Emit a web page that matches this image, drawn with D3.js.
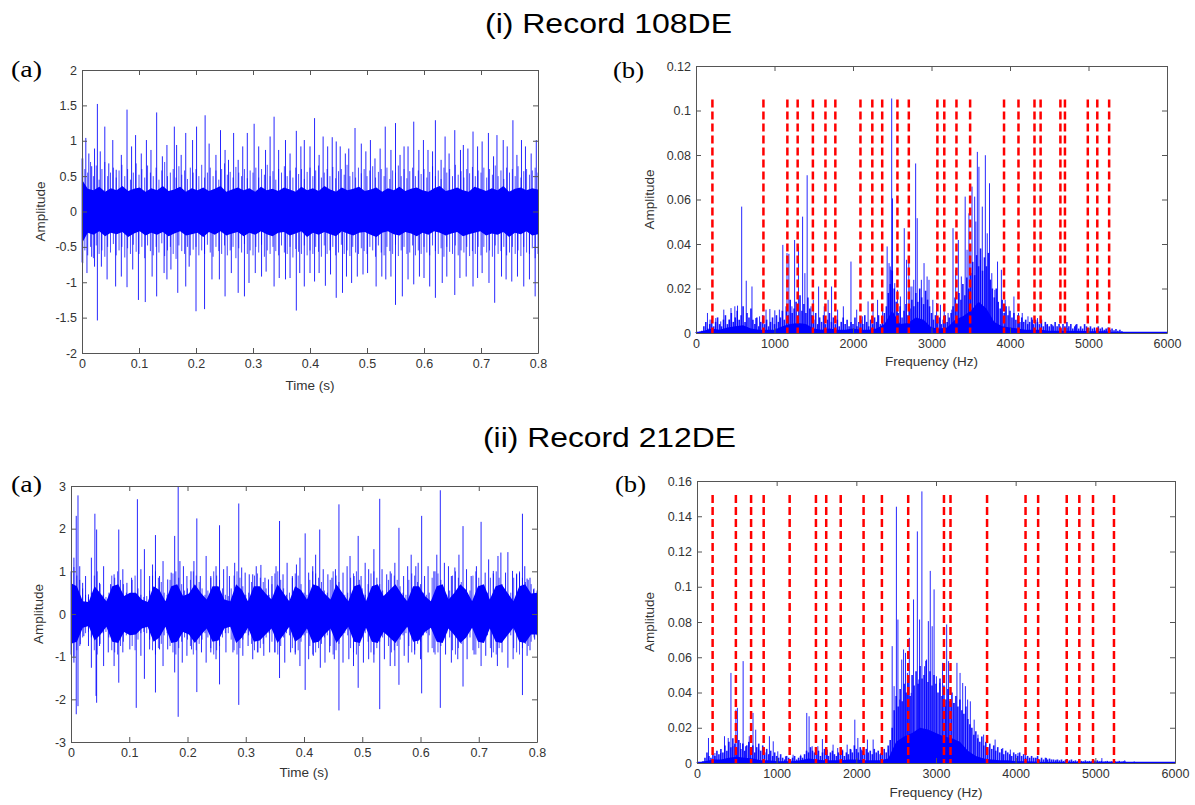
<!DOCTYPE html>
<html><head><meta charset="utf-8">
<script src="https://cdn.jsdelivr.net/npm/d3@7"></script>
<style>body{margin:0;background:#fff}svg{display:block}</style>
</head><body><svg id="c" width="1195" height="805"></svg>
<script>
// ---------- DATA ----------
const titles = ["(i) Record 108DE", "(ii) Record 212DE"];
const timeTicks = [0,0.1,0.2,0.3,0.4,0.5,0.6,0.7,0.8];
const freqTicks = [0,1000,2000,3000,4000,5000,6000];
const ampTicks1a = [-2,-1.5,-1,-0.5,0,0.5,1,1.5,2];
const ampTicks1b = [0,0.02,0.04,0.06,0.08,0.1,0.12];
const ampTicks2a = [-3,-2,-1,0,1,2,3];
const ampTicks2b = [0,0.02,0.04,0.06,0.08,0.1,0.12,0.14,0.16];

// Record 108DE time signal: solid core envelope (80 points over 0..0.8 s)
const coreUp1 = [0.45,0.32,0.3,0.35,0.28,0.33,0.3,0.36,0.29,0.32,0.34,0.28,0.33,0.3,0.36,0.29,0.31,0.35,0.28,0.33,0.3,0.34,0.29,0.32,0.36,0.28,0.31,0.34,0.3,0.33,0.28,0.35,0.3,0.32,0.29,0.34,0.31,0.28,0.35,0.3,0.33,0.29,0.36,0.31,0.28,0.34,0.3,0.32,0.35,0.29,0.31,0.34,0.28,0.33,0.3,0.35,0.29,0.32,0.34,0.3,0.28,0.33,0.36,0.29,0.31,0.34,0.3,0.28,0.35,0.32,0.29,0.33,0.3,0.36,0.28,0.32,0.34,0.3,0.33,0.31];
const coreDn1 = [-0.45,-0.3,-0.33,-0.28,-0.35,-0.3,-0.32,-0.29,-0.36,-0.31,-0.28,-0.34,-0.3,-0.33,-0.29,-0.35,-0.31,-0.28,-0.34,-0.32,-0.3,-0.36,-0.29,-0.33,-0.28,-0.34,-0.31,-0.29,-0.35,-0.3,-0.33,-0.28,-0.32,-0.35,-0.3,-0.29,-0.34,-0.31,-0.28,-0.36,-0.3,-0.33,-0.29,-0.32,-0.35,-0.28,-0.31,-0.34,-0.3,-0.29,-0.33,-0.36,-0.3,-0.28,-0.32,-0.34,-0.29,-0.31,-0.35,-0.3,-0.33,-0.28,-0.3,-0.34,-0.31,-0.29,-0.35,-0.32,-0.3,-0.28,-0.34,-0.31,-0.33,-0.29,-0.36,-0.3,-0.32,-0.28,-0.34,-0.32];
// dense medium oscillation peaks every 5 ms (161 points)
const fineUp1 = [0.75,0.6,0.55,0.7,0.5,0.65,0.45,0.6,0.7,0.5,0.55,0.62,0.48,0.58,0.66,0.5,0.6,0.45,0.55,0.68,
0.52,0.6,0.48,0.65,0.55,0.5,0.62,0.45,0.58,0.7,0.5,0.55,0.6,0.48,0.64,0.52,0.58,0.46,0.62,0.55,
0.6,0.5,0.66,0.48,0.55,0.62,0.5,0.58,0.45,0.6,0.68,0.52,0.56,0.48,0.63,0.55,0.5,0.6,0.47,0.58,
0.55,0.62,0.48,0.6,0.52,0.66,0.5,0.57,0.45,0.6,0.55,0.64,0.5,0.58,0.48,0.62,0.53,0.6,0.46,0.56,
0.62,0.5,0.58,0.65,0.48,0.55,0.6,0.5,0.63,0.47,0.57,0.6,0.52,0.66,0.5,0.56,0.48,0.62,0.54,0.6,
0.5,0.58,0.64,0.48,0.56,0.6,0.5,0.62,0.46,0.58,0.55,0.65,0.5,0.6,0.47,0.57,0.62,0.5,0.58,0.53,
0.6,0.48,0.56,0.64,0.5,0.58,0.46,0.62,0.55,0.6,0.5,0.66,0.52,0.57,0.48,0.6,0.54,0.63,0.5,0.58,
0.55,0.62,0.48,0.6,0.52,0.65,0.5,0.58,0.46,0.62,0.55,0.6,0.5,0.64,0.48,0.57,0.6,0.52,0.58,0.62,0.55];
const fineDn1 = [-0.72,-0.55,-0.62,-0.5,-0.66,-0.48,-0.6,-0.55,-0.64,-0.5,-0.58,-0.46,-0.62,-0.55,-0.5,-0.65,-0.52,-0.6,-0.47,-0.57,
-0.6,-0.5,-0.66,-0.48,-0.56,-0.62,-0.5,-0.58,-0.45,-0.63,-0.55,-0.5,-0.6,-0.67,-0.48,-0.56,-0.6,-0.5,-0.62,-0.54,
-0.5,-0.62,-0.55,-0.6,-0.47,-0.58,-0.64,-0.5,-0.56,-0.6,-0.48,-0.62,-0.55,-0.5,-0.66,-0.52,-0.58,-0.46,-0.6,-0.55,
-0.62,-0.5,-0.58,-0.47,-0.64,-0.55,-0.6,-0.5,-0.56,-0.62,-0.48,-0.58,-0.6,-0.5,-0.65,-0.53,-0.57,-0.6,-0.48,-0.62,
-0.55,-0.6,-0.5,-0.57,-0.64,-0.48,-0.6,-0.55,-0.5,-0.62,-0.58,-0.47,-0.6,-0.55,-0.63,-0.5,-0.58,-0.6,-0.52,-0.56,
-0.6,-0.5,-0.55,-0.64,-0.48,-0.58,-0.62,-0.5,-0.56,-0.6,-0.47,-0.63,-0.55,-0.5,-0.6,-0.58,-0.48,-0.62,-0.55,-0.6,
-0.5,-0.58,-0.62,-0.48,-0.56,-0.6,-0.52,-0.64,-0.5,-0.57,-0.6,-0.48,-0.62,-0.55,-0.58,-0.5,-0.63,-0.56,-0.6,-0.5,
-0.62,-0.5,-0.58,-0.55,-0.64,-0.48,-0.6,-0.56,-0.5,-0.62,-0.58,-0.5,-0.6,-0.55,-0.63,-0.5,-0.58,-0.6,-0.52,-0.66,-0.6];
// large impulse peaks (time in ms, amplitude)
const posT1 = [1.3,6.7,12,17,22,27,32,40,47,54,60,69,79,87,94,104,113,121,131,141,149,162,166,174,182,194,201,216,223,235,243,251,257,266,274,282,290,302,310,322,330,337,345,357,365,376,384,390,400,408,416,423,431,439,446,453,462,468,479,490,498,506,514,523,532,542,550,558,565,572,582,591,599,607,615,620,630,637,644,654,664,669,677,686,694,702,713,722,728,739,746,756,763,771,778,788,797];
const posV1 = [0.75,1.04,0.82,0.64,0.89,1.52,0.85,1.2,0.68,1.01,0.59,0.8,1.44,0.92,1.08,0.82,1.01,0.87,1.4,0.78,0.94,1.2,0.94,0.8,1.11,1.01,1.2,1.36,0.96,0.8,1.15,0.87,0.73,1.11,0.73,0.92,1.11,1.24,0.92,0.87,1.06,1.34,0.87,1.01,0.82,1.14,0.92,1.01,0.92,1.32,0.8,1.06,0.92,1.05,0.99,0.92,0.82,0.89,1.18,0.96,0.85,1.01,0.75,0.89,1.2,0.87,1.25,0.8,0.92,0.92,1.27,0.87,1.01,0.87,0.85,1.29,0.73,1.06,0.82,1.15,0.87,0.94,0.89,1.13,0.92,0.99,1.11,0.78,1.08,1.01,0.92,1.29,0.8,1.01,0.92,0.82,1.01];
const negT1 = [1.3,8.7,17,22,27,34,44,59,69,79,89,99,111,123,131,144,149,156,168,182,188,200,215,228,241,251,262,274,285,293,304,315,323,337,346,357,365,376,382,390,400,408,416,427,436,446,457,464,473,483,493,501,516,526,533,542,550,562,572,582,592,600,610,620,632,640,654,663,674,686,694,702,714,724,736,744,754,764,775,785,795];
const negV1 = [-0.73,-0.87,-0.64,-0.78,-1.54,-0.78,-0.96,-1.06,-0.92,-1.07,-0.82,-1.25,-1.28,-0.92,-1.2,-0.87,-0.96,-0.82,-1.15,-1.06,-0.78,-1.41,-1.38,-0.96,-0.96,-1.2,-0.87,-1.15,-1.2,-1.01,-0.87,-0.92,-0.85,-1.06,-0.94,-0.96,-0.94,-1.4,-0.87,-1.06,-0.87,-0.99,-0.87,-1.05,-0.89,-1.22,-1.15,-0.92,-1.01,-0.92,-0.89,-0.87,-1.06,-0.92,-0.96,-0.92,-1.32,-1.2,-0.96,-1.03,-0.92,-0.94,-1.06,-1.22,-1.01,-0.92,-1.18,-0.94,-0.92,-1.06,-0.94,-0.87,-1.01,-1.29,-0.92,-0.96,-0.99,-0.92,-1.06,-0.96,-1.2];

// Record 108DE spectrum
const floor1 = [0.0002,0.001,0.002,0.0015,0.0025,0.003,0.0035,0.002,0.0015,0.0015,0.0015,0.003,0.004,0.0045,0.004,0.002,0.0015,0.002,0.0015,0.0015,0.002,0.0015,0.0015,0.002,0.004,0.01,0.004,0.0045,0.007,0.006,0.0025,0.002,0.0025,0.006,0.0075,0.01,0.014,0.011,0.005,0.003,0.0025,0.002,0.0015,0.0015,0.0015,0.001,0.001,0.001,0.001,0.001,0.0008,0.0008,0.0008,0.0005,0.0004,0.0001,0.0001,0.0001,0.0001,0.0001,0.0001];
// dense small spectral lines every 25 Hz (0..5475 Hz)
const fine1 = [0.0003,0.0004,0.0006,0.001,0.003,0.005,0.002,0.004,0.006,0.003,0.005,0.007,0.004,0.003,0.006,0.008,0.004,0.006,0.009,0.005,
0.007,0.01,0.006,0.008,0.012,0.005,0.009,0.007,0.011,0.006,0.004,0.007,0.003,0.005,0.008,0.004,0.006,0.003,0.005,0.007,
0.004,0.008,0.005,0.007,0.01,0.006,0.012,0.008,0.015,0.009,0.011,0.014,0.008,0.017,0.01,0.013,0.009,0.016,0.011,0.008,
0.006,0.009,0.004,0.007,0.005,0.008,0.004,0.006,0.009,0.005,0.007,0.004,0.006,0.003,0.005,0.007,0.004,0.006,0.003,0.005,
0.004,0.007,0.003,0.005,0.006,0.004,0.008,0.005,0.003,0.006,0.004,0.007,0.005,0.008,0.004,0.006,0.009,0.012,0.018,0.022,
0.028,0.02,0.014,0.009,0.012,0.007,0.01,0.013,0.008,0.011,0.015,0.012,0.018,0.014,0.02,0.016,0.013,0.019,0.015,0.012,
0.009,0.006,0.008,0.005,0.007,0.004,0.006,0.008,0.005,0.007,0.009,0.012,0.016,0.013,0.018,0.015,0.022,0.017,0.025,0.02,
0.027,0.032,0.026,0.035,0.03,0.038,0.028,0.034,0.03,0.036,0.024,0.02,0.016,0.02,0.014,0.011,0.015,0.009,0.012,0.008,
0.01,0.007,0.009,0.006,0.008,0.005,0.007,0.005,0.006,0.004,0.005,0.007,0.004,0.006,0.005,0.004,0.006,0.003,0.005,0.004,
0.003,0.004,0.003,0.005,0.003,0.004,0.002,0.004,0.003,0.005,0.003,0.004,0.002,0.003,0.004,0.002,0.003,0.002,0.004,0.003,
0.002,0.003,0.002,0.0025,0.0015,0.003,0.002,0.0025,0.0015,0.002,0.0025,0.0015,0.002,0.0012,0.0018,0.001,0.0015,0.0008,0.0005,0.0003];
const peakF1 = [146,179,252,315,354,422,446,495,529,582,640,713,761,810,892,941,1004,1062,1106,1159,1183,1222,1256,1305,1358,1387,1416,1465,1494,1562,1634,1683,1727,1804,1877,1974,2047,2119,2192,2255,2313,2377,2435,2459,2474,2483,2493,2503,2532,2566,2604,2653,2682,2711,2726,2750,2774,2798,2818,2847,2871,2905,2944,2968,3017,3065,3114,3162,3211,3259,3274,3308,3342,3380,3429,3453,3477,3492,3516,3550,3565,3584,3604,3623,3647,3686,3710,3739,3768,3807,3841,3890,3938,3987,4050,4108,4156,4229,4287,4350,4399,4472,4544,4641,4738,4835,4981,5078,5223,5369];
const peakA1 = [0.009,0.006,0.0067,0.0052,0.0105,0.006,0.0112,0.012,0.0123,0.0568,0.0235,0.0209,0.0067,0.0075,0.0105,0.0108,0.0102,0.0105,0.0396,0.0359,0.0356,0.012,0.0418,0.0389,0.0523,0.0269,0.0709,0.012,0.0149,0.0209,0.012,0.0149,0.0209,0.0105,0.012,0.0321,0.0105,0.0075,0.0142,0.0135,0.0149,0.0112,0.0389,0.0314,0.0299,0.0284,0.1054,0.0605,0.0224,0.0194,0.0164,0.0471,0.0329,0.0329,0.0209,0.0209,0.0239,0.0762,0.0516,0.0194,0.0239,0.0314,0.0254,0.0239,0.0149,0.0135,0.0127,0.012,0.009,0.0105,0.0471,0.0284,0.0418,0.0254,0.0613,0.0374,0.0538,0.0389,0.0658,0.0613,0.0501,0.0814,0.0747,0.0329,0.0568,0.0799,0.0448,0.0673,0.0269,0.0194,0.0321,0.0284,0.0149,0.012,0.0164,0.009,0.009,0.0075,0.006,0.0067,0.0045,0.0037,0.0037,0.003,0.0022,0.0037,0.0022,0.0022,0.0015,0.0007];
const markF1 = [209,859,1164,1295,1489,1649,1775,2095,2246,2372,2566,2711,3075,3163,3318,3492,3924,4108,4312,4390,4642,4700,4991,5112,5263];
const markTop1 = 0.105;

// Record 212DE time signal
const coreUp2 = [0.72,0.65,0.3,0.28,0.65,0.48,0.3,0.65,0.7,0.42,0.5,0.5,0.34,0.28,0.65,0.56,0.3,0.65,0.7,0.42,0.48,0.7,0.5,0.34,0.65,0.65,0.34,0.3,0.7,0.56,0.3,0.65,0.65,0.48,0.34,0.7,0.5,0.3,0.65,0.56,0.34,0.7,0.65,0.48,0.34,0.7,0.5,0.3,0.65,0.7,0.3,0.65,0.7,0.42,0.56,0.7,0.48,0.3,0.65,0.65,0.42,0.3,0.65,0.7,0.34,0.5,0.7,0.56,0.3,0.65,0.7,0.34,0.65,0.7,0.5,0.3,0.65,0.7,0.48,0.5];
const coreDn2 = [-0.7,-0.65,-0.32,-0.28,-0.62,-0.48,-0.3,-0.65,-0.68,-0.42,-0.5,-0.48,-0.34,-0.3,-0.65,-0.55,-0.3,-0.68,-0.65,-0.42,-0.48,-0.68,-0.5,-0.34,-0.65,-0.62,-0.34,-0.3,-0.68,-0.55,-0.32,-0.65,-0.62,-0.48,-0.34,-0.68,-0.5,-0.3,-0.65,-0.55,-0.34,-0.68,-0.65,-0.48,-0.34,-0.68,-0.5,-0.3,-0.65,-0.68,-0.32,-0.65,-0.68,-0.42,-0.55,-0.68,-0.48,-0.3,-0.65,-0.62,-0.42,-0.32,-0.65,-0.68,-0.34,-0.5,-0.68,-0.55,-0.32,-0.65,-0.68,-0.34,-0.65,-0.68,-0.5,-0.32,-0.65,-0.68,-0.48,-0.48];
const fineUp2 = [1.0,1.1,0.9,0.8,0.6,0.45,0.4,0.5,0.9,1.0,0.7,0.45,0.4,0.5,0.9,0.85,1.0,0.8,0.7,0.5,
0.45,0.8,0.9,0.6,0.45,0.4,0.42,0.55,0.9,1.0,0.85,0.75,0.5,0.45,0.8,0.95,1.0,0.85,0.7,0.55,
0.6,0.8,1.0,0.9,0.75,0.6,0.45,0.55,0.85,1.0,0.9,0.8,0.6,0.45,0.42,0.6,0.9,1.0,0.85,0.65,
0.45,0.5,0.75,0.9,0.95,0.85,0.75,0.6,0.45,0.7,0.95,1.0,0.8,0.6,0.45,0.5,0.85,0.95,0.9,0.7,
0.5,0.45,0.8,1.0,0.95,0.85,0.75,0.55,0.5,0.8,1.0,0.9,0.75,0.5,0.45,0.5,0.85,0.95,1.0,0.8,
0.6,0.45,0.7,0.95,1.0,0.85,0.7,0.55,0.45,0.8,0.95,0.9,0.8,0.65,0.5,0.45,0.8,0.95,0.9,0.75,
0.7,0.5,0.45,0.5,0.85,1.0,0.95,0.8,0.6,0.45,0.55,0.9,1.0,0.85,0.75,0.55,0.45,0.55,0.9,1.0,
0.85,0.65,0.45,0.5,0.85,0.95,1.0,0.85,0.7,0.55,0.45,0.5,0.85,0.95,1.0,0.85,0.75,0.8,0.7,0.6,0.55];
const fineDn2 = [-0.95,-1.0,-0.85,-0.75,-0.55,-0.45,-0.42,-0.55,-0.85,-0.95,-0.7,-0.45,-0.42,-0.55,-0.85,-0.9,-0.95,-0.75,-0.65,-0.5,
-0.45,-0.75,-0.85,-0.6,-0.45,-0.42,-0.45,-0.6,-0.85,-0.95,-0.8,-0.7,-0.5,-0.45,-0.75,-0.9,-0.95,-0.8,-0.65,-0.55,
-0.6,-0.75,-0.95,-0.85,-0.7,-0.6,-0.45,-0.55,-0.8,-0.95,-0.85,-0.75,-0.55,-0.45,-0.45,-0.6,-0.85,-0.95,-0.8,-0.6,
-0.45,-0.5,-0.7,-0.85,-0.9,-0.8,-0.7,-0.55,-0.45,-0.65,-0.9,-0.95,-0.75,-0.55,-0.45,-0.5,-0.8,-0.9,-0.85,-0.65,
-0.5,-0.45,-0.75,-0.95,-0.9,-0.8,-0.7,-0.55,-0.5,-0.75,-0.95,-0.85,-0.7,-0.5,-0.45,-0.5,-0.8,-0.9,-0.95,-0.75,
-0.55,-0.45,-0.65,-0.9,-0.95,-0.8,-0.65,-0.55,-0.45,-0.75,-0.9,-0.85,-0.75,-0.6,-0.5,-0.45,-0.75,-0.9,-0.85,-0.7,
-0.65,-0.5,-0.45,-0.5,-0.8,-0.95,-0.9,-0.75,-0.55,-0.45,-0.55,-0.85,-0.95,-0.8,-0.7,-0.55,-0.45,-0.55,-0.85,-0.95,
-0.8,-0.6,-0.45,-0.5,-0.8,-0.9,-0.95,-0.8,-0.65,-0.55,-0.45,-0.5,-0.8,-0.9,-0.95,-0.8,-0.7,-0.75,-0.65,-0.55,-0.5];
const posT2 = [2,5,9,12,15,20,25,30,35,41,44,49,56,68,74,82,89,96,104,114,120,126,135,140,145,152,158,166,172,178,184,187,193,199,206,211,216,222,232,240,249,255,262,268,272,281,288,293,299,306,312,318,326,333,339,345,352,358,364,371,380,387,393,402,408,415,420,427,433,441,448,454,460,467,474,479,486,493,498,505,511,520,530,534,542,548,556,563,571,578,584,592,596,602,607,613,623,628,634,641,648,653,659,666,673,679,687,696,704,711,717,725,733,738,746,750,758,765,770,775,779,783,788,794];
const posV2 = [0.58,1.32,2.3,2.78,1.12,0.73,0.89,0.46,1.32,2.35,1.98,0.73,1.12,0.7,0.93,1.98,1.05,0.73,0.85,2.69,1.05,1.52,0.89,1.16,1.85,0.89,1.24,0.81,0.97,1.83,3.0,1.24,1.12,0.89,1.0,1.24,2.24,0.89,1.36,0.89,1.12,2.08,1.05,1.12,0.89,1.2,2.59,1.09,0.97,0.93,0.93,1.12,1.15,0.85,0.81,0.89,1.12,2.18,0.93,1.2,0.89,1.16,1.32,1.89,0.97,1.12,1.39,1.98,1.05,0.93,0.85,1.05,2.57,0.97,1.12,1.36,0.89,1.83,0.89,1.2,1.05,1.52,2.7,1.05,0.93,1.0,1.2,2.02,0.89,1.12,1.39,1.12,1.2,2.3,0.89,1.12,1.0,1.39,2.9,1.2,1.12,0.89,1.09,1.39,2.06,1.05,0.89,1.12,2.16,0.97,1.28,1.01,1.36,1.44,0.97,1.45,1.01,0.93,0.97,2.35,1.12,0.83,0.85,0.58];
const negT2 = [2,5,9,12,16,22,30,35,43,44,49,56,64,74,82,89,101,112,120,126,135,145,152,158,166,178,184,191,199,207,216,224,232,240,249,255,266,278,288,295,304,312,321,331,341,350,358,367,377,385,393,402,408,416,428,436,444,452,460,467,477,485,493,502,511,520,530,538,548,556,563,572,579,590,600,602,613,623,634,643,653,664,673,680,692,704,712,722,732,740,750,759,775,783,788,796];
const negV2 = [-0.55,-1.14,-2.35,-2.16,-0.71,-0.52,-0.75,-1.26,-1.92,-2.08,-0.75,-1.22,-0.9,-1.22,-1.61,-0.9,-0.83,-2.2,-0.98,-1.52,-0.83,-1.84,-0.83,-1.22,-0.83,-1.37,-2.41,-1.14,-0.98,-0.83,-1.83,-0.9,-1.14,-0.9,-1.06,-1.65,-0.9,-0.9,-2.13,-0.98,-0.75,-1.06,-0.9,-0.98,-0.9,-0.9,-1.5,-1.14,-0.9,-0.95,-1.22,-1.78,-1.06,-0.98,-1.26,-1.14,-0.9,-1.06,-2.26,-1.14,-1.06,-1.22,-1.73,-1.14,-1.06,-1.14,-2.23,-1.06,-1.22,-1.22,-1.66,-0.98,-1.14,-0.95,-1.06,-1.86,-0.9,-0.9,-2.2,-0.95,-1.14,-1.06,-1.7,-1.06,-0.95,-1.22,-0.98,-1.02,-1.22,-0.9,-1.26,-1.06,-1.9,-0.98,-0.85,-0.6];

// Record 212DE spectrum
const floor2 = [0.0002,0.001,0.002,0.002,0.003,0.0035,0.003,0.0025,0.0015,0.0015,0.001,0.001,0.001,0.0015,0.0025,0.002,0.0015,0.0015,0.0015,0.002,0.002,0.0015,0.0015,0.0015,0.0025,0.012,0.015,0.017,0.02,0.019,0.017,0.015,0.014,0.012,0.007,0.004,0.0025,0.002,0.0015,0.0015,0.001,0.001,0.0008,0.0006,0.0005,0.0005,0.0004,0.0004,0.0004,0.0004,0.0004,0.0004,0.0004,0.0003,0.0003,0.0001,0.0001,0.0001,0.0001,0.0001,0.0001];
const fine2 = [0.0003,0.0004,0.0006,0.001,0.003,0.006,0.004,0.003,0.005,0.004,0.007,0.005,0.008,0.006,0.01,0.007,0.012,0.009,0.014,0.011,
0.009,0.013,0.008,0.011,0.007,0.01,0.012,0.008,0.01,0.006,0.009,0.011,0.007,0.01,0.006,0.008,0.005,0.007,0.004,0.006,
0.004,0.003,0.005,0.003,0.002,0.004,0.003,0.002,0.003,0.004,0.002,0.003,0.004,0.003,0.005,0.007,0.006,0.009,0.007,0.006,
0.005,0.007,0.004,0.006,0.008,0.005,0.004,0.006,0.007,0.005,0.004,0.006,0.005,0.007,0.004,0.006,0.005,0.008,0.006,0.01,
0.008,0.006,0.009,0.007,0.005,0.008,0.006,0.007,0.005,0.008,0.006,0.007,0.005,0.006,0.008,0.006,0.01,0.013,0.02,0.03,
0.038,0.032,0.042,0.035,0.045,0.04,0.048,0.038,0.05,0.044,0.052,0.045,0.055,0.048,0.05,0.058,0.046,0.052,0.044,0.05,
0.045,0.04,0.048,0.038,0.044,0.036,0.042,0.035,0.04,0.034,0.038,0.032,0.036,0.03,0.028,0.032,0.025,0.022,0.02,0.016,
0.018,0.014,0.012,0.015,0.01,0.012,0.009,0.011,0.008,0.01,0.007,0.009,0.006,0.008,0.005,0.007,0.006,0.005,0.004,0.006,
0.005,0.004,0.006,0.004,0.005,0.003,0.004,0.003,0.004,0.003,0.003,0.004,0.002,0.003,0.002,0.003,0.002,0.0025,0.002,0.002,
0.0015,0.002,0.0015,0.002,0.0012,0.0018,0.0012,0.0015,0.002,0.0012,0.0015,0.001,0.0015,0.0012,0.001,0.0015,0.001,0.0012,0.001,0.0015,
0.001,0.0015,0.001,0.0012,0.0008,0.001,0.0012,0.0008,0.001,0.0008,0.001,0.0008,0.0012,0.0008,0.001,0.0008,0.0006,0.0005,0.0004,0.0003];
const peakF2 = [144,225,297,345,392,426,450,488,507,545,579,608,656,703,737,775,847,909,957,1014,1110,1206,1302,1378,1407,1445,1517,1574,1636,1708,1766,1828,1885,1933,1981,2019,2067,2139,2211,2306,2402,2450,2474,2503,2522,2546,2570,2593,2617,2641,2665,2689,2718,2766,2785,2794,2823,2857,2881,2904,2928,2952,2976,3005,3048,3082,3120,3134,3158,3192,3225,3263,3302,3335,3369,3397,3431,3479,3527,3598,3670,3742,3838,3933,4029,4125,4268,4388,4507,4651,4795,4986,5082,5225,5369,5488];
const peakA2 = [0.0142,0.0057,0.0057,0.0152,0.0142,0.0511,0.0095,0.0303,0.0313,0.0114,0.0578,0.0095,0.0152,0.0284,0.0189,0.0076,0.0085,0.0152,0.0123,0.0066,0.0038,0.0047,0.0047,0.0284,0.0265,0.0095,0.0095,0.0136,0.0076,0.0104,0.0085,0.0076,0.0104,0.0076,0.0246,0.0142,0.0076,0.0133,0.0133,0.0057,0.0076,0.0663,0.0436,0.1454,0.0814,0.036,0.0587,0.0644,0.0625,0.0511,0.071,0.0398,0.0928,0.1314,0.0474,0.0814,0.1541,0.0549,0.0587,0.0805,0.109,0.0776,0.0985,0.0492,0.0455,0.0568,0.0322,0.0786,0.0578,0.0341,0.0341,0.0568,0.0511,0.0454,0.0436,0.036,0.035,0.0246,0.0161,0.0161,0.0076,0.0133,0.0085,0.0076,0.0057,0.0057,0.0028,0.0028,0.0019,0.0019,0.0013,0.0015,0.0028,0.0009,0.0015,0.0009];
const markF2 = [196,488,679,837,1163,1493,1622,1804,2091,2321,2651,3100,3182,3641,4124,4282,4641,4799,4971,5234];
const markTop2 = 0.152;

// ---------- DRAWING ----------
const svg = d3.select('#c');
const BLUE = '#0000ff', AX = '#555', TXT = '#333';
const SANS = '"Liberation Sans", Arial, Helvetica, sans-serif';
const fmt = d => String(+d.toFixed(3));

function frame(o) {
  const x = d3.scaleLinear().domain(o.xd).range([o.x0, o.x1]);
  const y = d3.scaleLinear().domain(o.yd).range([o.y1, o.y0]);
  const g = svg.append('g');
  const data = g.append('g');
  const axes = g.append('g');
  const style = s => {
    s.selectAll('path.domain').attr('stroke', AX);
    s.selectAll('.tick line').attr('stroke', AX);
    s.selectAll('text').attr('fill', TXT).style('font-family', SANS).style('font-size', '12.5px');
  };
  axes.append('g').attr('transform', `translate(0,${o.y1})`)
    .call(d3.axisBottom(x).tickValues(o.xt).tickFormat(fmt).tickSizeInner(-5).tickSizeOuter(0).tickPadding(6)).call(style);
  axes.append('g').attr('transform', `translate(0,${o.y0})`)
    .call(d3.axisTop(x).tickValues(o.xt).tickFormat('').tickSizeInner(-5).tickSizeOuter(0)).call(style);
  axes.append('g').attr('transform', `translate(${o.x0},0)`)
    .call(d3.axisLeft(y).tickValues(o.yt).tickFormat(fmt).tickSizeInner(-5).tickSizeOuter(0).tickPadding(5)).call(style);
  axes.append('g').attr('transform', `translate(${o.x1},0)`)
    .call(d3.axisRight(y).tickValues(o.yt).tickFormat('').tickSizeInner(-5).tickSizeOuter(0)).call(style);
  g.append('text').attr('x', (o.x0 + o.x1) / 2).attr('y', o.xly).attr('text-anchor', 'middle')
    .style('font-family', SANS).style('font-size', '13.5px').attr('fill', TXT).text(o.xl);
  g.append('text').attr('transform', `translate(${o.ylx},${(o.y0 + o.y1) / 2}) rotate(-90)`).attr('text-anchor', 'middle')
    .style('font-family', SANS).style('font-size', '13.5px').attr('fill', TXT).text('Amplitude');
  g.append('text').attr('x', o.lx).attr('y', o.ly).attr('textLength', 31).attr('lengthAdjust', 'spacingAndGlyphs')
    .style('font-family', '"Liberation Serif", "Times New Roman", serif').style('font-size', '24px').attr('fill', '#000').text(o.letter);
  return {x, y, data};
}

function vlines(layer, pts, x, y, w, op) {
  layer.append('g').selectAll('line').data(pts).join('line')
    .attr('x1', d => x(d[0])).attr('x2', d => x(d[0]))
    .attr('y1', d => y(d[1])).attr('y2', d => y(d[2]))
    .attr('stroke', BLUE).attr('stroke-width', w).attr('stroke-opacity', op);
}

function timePanel(o, up, dn, fu, fd, pT, pV, nT, nV) {
  const {x, y, data} = frame(o);
  const fpts = [];
  for (let i = 0; i < Math.min(fu.length, fd.length); i++) fpts.push([i * 0.005, fd[i], fu[i]]);
  vlines(data, fpts, x, y, 1, 0.7);
  const n = up.length;
  const tg = d3.range(n).map(i => i * 0.8 / (n - 1));
  data.append('path').datum(d3.range(n))
    .attr('d', d3.area().x(i => x(tg[i])).y0(i => y(dn[i])).y1(i => y(up[i])))
    .attr('fill', BLUE);
  const spikes = [];
  for (let i = 0; i < Math.min(pT.length, pV.length); i++) spikes.push([pT[i] / 1000, 0, pV[i]]);
  for (let i = 0; i < Math.min(nT.length, nV.length); i++) spikes.push([nT[i] / 1000, 0, nV[i]]);
  vlines(data, spikes, x, y, 1, 0.85);
}

function specPanel(o, floor, fine, pF, pA, marks, top) {
  const {x, y, data} = frame(o);
  const fg = d3.range(floor.length).map(i => i * 100);
  data.append('path').datum(d3.range(floor.length))
    .attr('d', d3.area().x(i => x(fg[i])).y0(y(0)).y1(i => y(floor[i])))
    .attr('fill', BLUE);
  vlines(data, fine.map((v, i) => [i * 25, 0, v]), x, y, 1.6, 0.9);
  const pk = [];
  for (let i = 0; i < Math.min(pF.length, pA.length); i++) pk.push([pF[i], 0, pA[i]]);
  vlines(data, pk, x, y, 1, 0.85);
  data.append('line').attr('x1', x(0)).attr('x2', x(6000)).attr('y1', y(0) - 0.5).attr('y2', y(0) - 0.5).attr('stroke', BLUE).attr('stroke-width', 1.5);
  data.append('g').selectAll('line').data(marks).join('line')
    .attr('x1', d => x(d)).attr('x2', d => x(d))
    .attr('y1', y(top)).attr('y2', y(0))
    .attr('stroke', '#ff0000').attr('stroke-width', 2.5).attr('stroke-dasharray', '8,4');
}

svg.append('text').attr('x', 485).attr('y', 33).attr('textLength', 247).attr('lengthAdjust', 'spacingAndGlyphs')
  .style('font-family', SANS).style('font-size', '27px').attr('fill', '#000').text(titles[0]);
svg.append('text').attr('x', 483).attr('y', 447).attr('textLength', 253).attr('lengthAdjust', 'spacingAndGlyphs')
  .style('font-family', SANS).style('font-size', '27px').attr('fill', '#000').text(titles[1]);

timePanel({x0: 82, x1: 538, y0: 70, y1: 353, xd: [0, 0.8], yd: [-2, 2], xt: timeTicks, yt: ampTicks1a,
  xl: 'Time (s)', xly: 390, ylx: 45, letter: '(a)', lx: 11, ly: 77}, coreUp1, coreDn1, fineUp1, fineDn1, posT1, posV1, negT1, negV1);
specPanel({x0: 696, x1: 1167, y0: 66, y1: 333, xd: [0, 6000], yd: [0, 0.12], xt: freqTicks, yt: ampTicks1b,
  xl: 'Frequency (Hz)', xly: 366, ylx: 654, letter: '(b)', lx: 613, ly: 78}, floor1, fine1, peakF1, peakA1, markF1, markTop1);
timePanel({x0: 71, x1: 537, y0: 486, y1: 742, xd: [0, 0.8], yd: [-3, 3], xt: timeTicks, yt: ampTicks2a,
  xl: 'Time (s)', xly: 777, ylx: 43, letter: '(a)', lx: 11, ly: 492}, coreUp2, coreDn2, fineUp2, fineDn2, posT2, posV2, negT2, negV2);
specPanel({x0: 697, x1: 1175, y0: 481, y1: 763, xd: [0, 6000], yd: [0, 0.16], xt: freqTicks, yt: ampTicks2b,
  xl: 'Frequency (Hz)', xly: 797, ylx: 654, letter: '(b)', lx: 615, ly: 492}, floor2, fine2, peakF2, peakA2, markF2, markTop2);
</script></body></html>
